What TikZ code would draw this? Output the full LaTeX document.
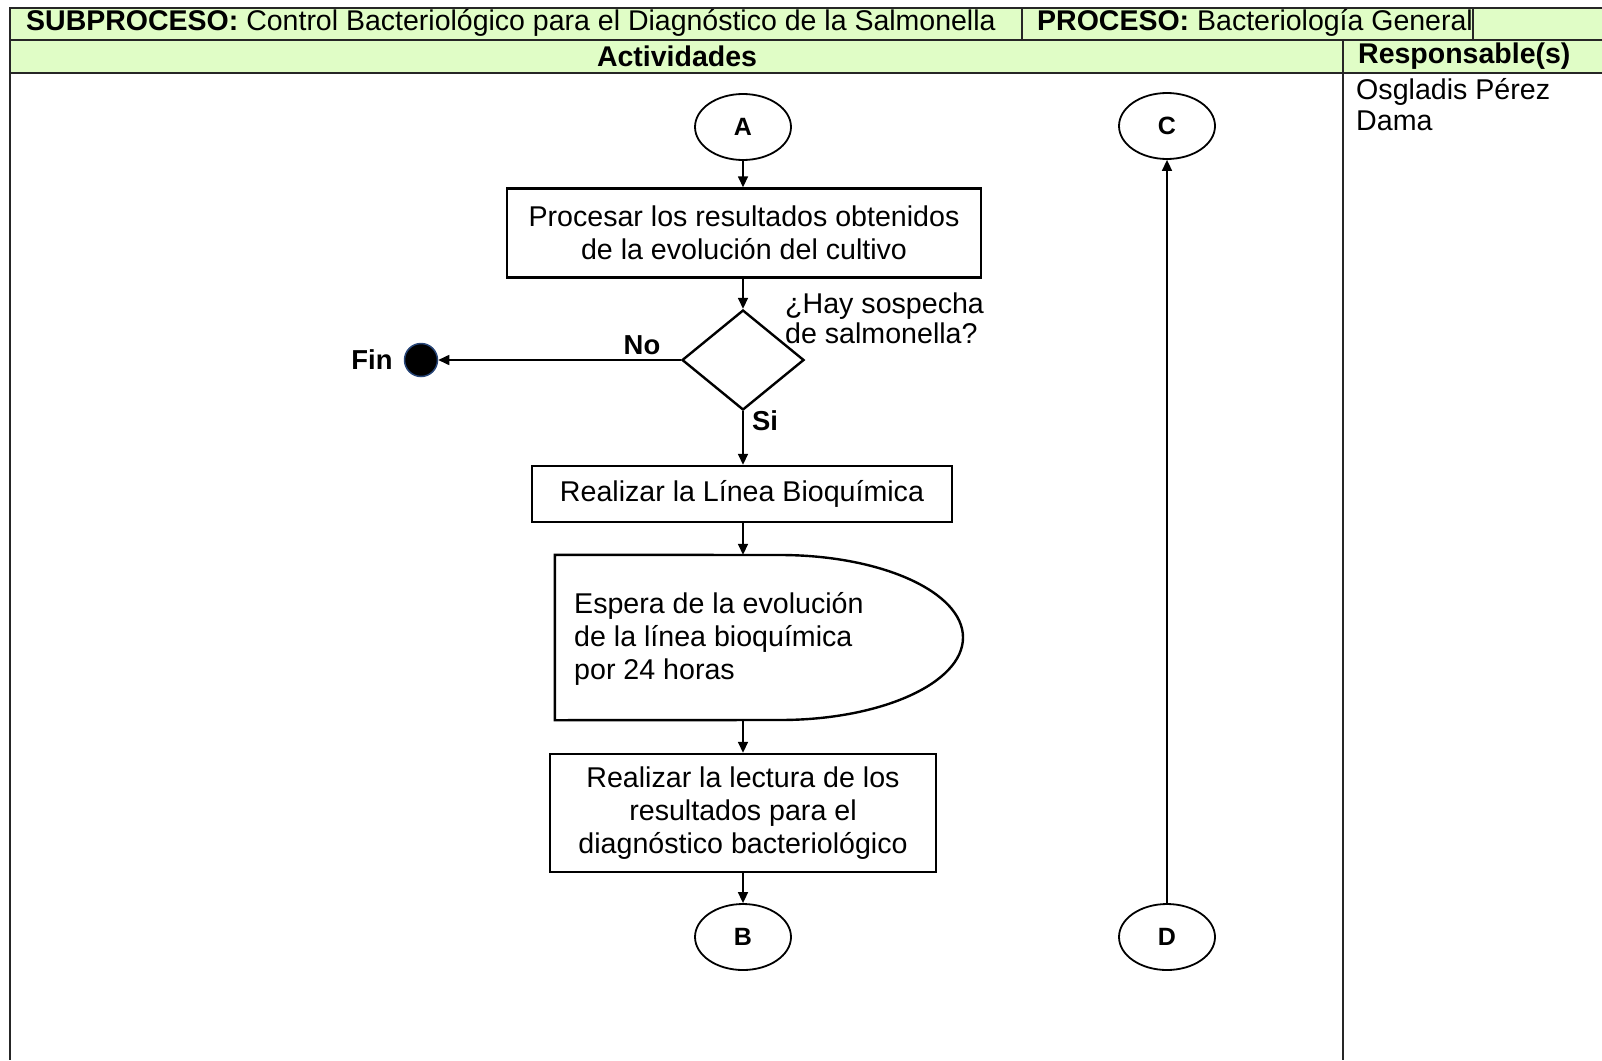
\documentclass[tikz,border=0pt]{standalone}
\usepackage{fontspec}
\setmainfont{Liberation Sans}
\usetikzlibrary{shapes.geometric,arrows.meta,calc}
\definecolor{headgreen}{RGB}{224,253,198}
\definecolor{findot}{RGB}{40,70,120}
\begin{document}
\begin{tikzpicture}[x=1pt,y=-1pt,
  grid/.style={line width=1.4pt,draw=black!85},
  headtxt/.style={font=\fontsize{28.5}{31}\selectfont,inner sep=0pt},
  bodytxt/.style={font=\fontsize{28.6}{33}\selectfont},
  procbox/.style={draw,line width=2.4pt,bodytxt,align=center,inner sep=0pt},
  conn/.style={draw,line width=1.8pt,ellipse,inner sep=0pt,minimum width=96pt,minimum height=66pt,font=\bfseries\fontsize{25}{28}\selectfont},
  flow/.style={line width=1.6pt,-{Triangle[length=11pt,width=10pt]}},
  lbl/.style={font=\bfseries\fontsize{27.4}{30}\selectfont,inner sep=0pt}
]
\useasboundingbox (0,0) rectangle (1602,1060);
\fill[white] (0,0) rectangle (1602,1060);

% header rows
\fill[headgreen] (10,8) rectangle (1602,73);
\draw[grid] (1602,8) -- (10,8) -- (10,1060);
\draw[grid] (10,40) -- (1602,40);
\draw[grid] (10,73) -- (1602,73);
\draw[grid] (1022,8) -- (1022,40);
\draw[grid] (1473,8) -- (1473,40);
\draw[grid] (1343,40) -- (1343,1060);

\node[headtxt,anchor=west] (sub) at (26,23) {\textbf{SUBPROCESO:} Control Bacteriológico para el Diagnóstico de la Salmonella};
\node[headtxt,anchor=west] (proc) at (1037,23) {\textbf{PROCESO:} Bacteriología General};
\node[headtxt,font=\bfseries\fontsize{28.5}{31}\selectfont] (act) at (677,56) {Actividades};
\node[headtxt,font=\bfseries\fontsize{28.5}{31}\selectfont,anchor=west] (resp) at (1358,56) {Responsable(s)};
\node[font=\fontsize{28.6}{31}\selectfont,anchor=west,align=left,inner sep=0pt] (who) at (1356,105) {Osgladis Pérez\\Dama};

% flowchart
\node[conn] (A) at (743,127) {A};
\node[conn] (C) at (1167,126) {C};
\node[procbox,minimum width=474pt,minimum height=89pt] (p1) at (744,233) {Procesar los resultados obtenidos\\de la evolución del cultivo};
\node[draw,diamond,line width=2.4pt,inner sep=0pt,minimum width=122pt,minimum height=100pt] (q) at (743,360) {};
\node[font=\fontsize{28.6}{30}\selectfont,anchor=west,align=left,inner sep=0pt] (qt) at (785,318) {¿Hay sospecha\\de salmonella?};
\node[circle,fill=black,draw=findot,line width=1.5pt,minimum size=33pt,inner sep=0pt] (fin) at (421,360) {};
\node[lbl] (fint) at (372,360) {Fin};
\node[lbl] (no) at (642,345) {No};
\node[lbl] (si) at (765,421) {Si};
\node[procbox,minimum width=420pt,minimum height=56pt] (p2) at (742,494) {Realizar la Línea Bioquímica};

% delay symbol
\node[minimum width=408pt,minimum height=165pt,inner sep=0pt] (dl) at (759,637.5) {};
\draw[line width=2.4pt] (dl.north west) -- (780,555)
  arc[start angle=-90,end angle=90,x radius=183,y radius=82.5] -- (dl.south west) -- cycle;
\node[bodytxt,anchor=west,align=left,inner sep=0pt] (dlt) at (574,639) {Espera de la evolución\\de la línea bioquímica\\por 24 horas};

\node[procbox,minimum width=386pt,minimum height=118pt] (p3) at (743,813) {Realizar la lectura de los\\resultados para el\\diagnóstico bacteriológico};
\node[conn] (B) at (743,937) {B};
\node[conn] (D) at (1167,937) {D};

% connectors
\draw[flow] (A) -- (A |- p1.north);
\draw[flow] (p1.south -| q) -- (q.north);
\draw[flow] (q.west) -- (fin.east);
\draw[flow] (q.south) -- (q |- p2.north);
\draw[flow] (p2.south -| q) -- (q |- dl.north);
\draw[flow] (q |- dl.south) -- (q |- p3.north);
\draw[flow] (p3.south -| B) -- (B.north);
\draw[flow] (D) -- (C);
\end{tikzpicture}
\end{document}
